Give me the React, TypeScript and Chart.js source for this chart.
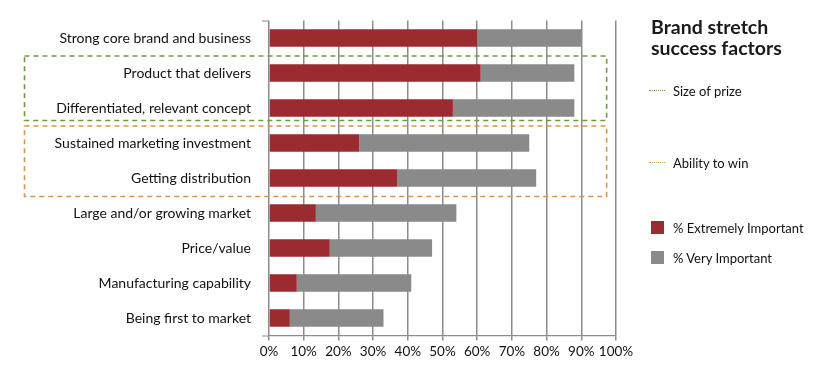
import React, { useEffect, useRef } from "react";
import { Chart, registerables } from "chart.js";

Chart.register(...registerables);

const categories = [
  "Strong core brand and business",
  "Product that delivers",
  "Differentiated, relevant concept",
  "Sustained marketing investment",
  "Getting distribution",
  "Large and/or growing market",
  "Price/value",
  "Manufacturing capability",
  "Being first to market",
];
const extremelyImportant = [60, 61, 53, 26, 37, 13.5, 17.5, 8, 6];
const veryImportant = [30, 27, 35, 49, 40, 40.5, 29.5, 33, 27];
const xTicks = [0, 10, 20, 30, 40, 50, 60, 70, 80, 90, 100];

const groups = [
  { label: "Size of prize", from: 1, to: 2, color: "#6f9a3c" },
  { label: "Ability to win", from: 3, to: 4, color: "#d9954c" },
];

const FONT = "Lato, 'Noto Sans', sans-serif";
const RED = "#9b2b2f";
const GREY = "#8a8a8a";

const boxPlugin = {
  id: "boxes",
  afterDatasetsDraw(chart: any) {
    const { ctx, scales, chartArea } = chart;
    const x = scales.x;
    const y = scales.y;
    const boundary = (i: number) => (y.getPixelForValue(i) + y.getPixelForValue(i + 1)) / 2;
    ctx.save();
    ctx.strokeStyle = "#8a8a8a";
    ctx.lineWidth = 1.2;
    ctx.beginPath();
    ctx.moveTo(chartArea.left - 7, chartArea.bottom + 0.5);
    ctx.lineTo(chartArea.left, chartArea.bottom + 0.5);
    ctx.moveTo(chartArea.left - 7, chartArea.top + 0.5);
    ctx.lineTo(chartArea.left, chartArea.top + 0.5);
    ctx.stroke();
    ctx.lineWidth = 1.6;
    ctx.setLineDash([5, 4]);
    groups.forEach((g, gi) => {
      const top = boundary(g.from - 1) + 0.5;
      const bottom = boundary(g.to) + (gi === 0 ? -5 : 1);
      const left = 24.5;
      const right = x.getPixelForValue(97.3);
      ctx.strokeStyle = g.color;
      ctx.strokeRect(left, top, right - left, bottom - top);
    });
    ctx.restore();
  },
};

export default function App() {
  const ref = useRef<HTMLCanvasElement>(null);
  useEffect(() => {
    if (!ref.current) return;
    const chart = new Chart(ref.current, {
      type: "bar",
      data: {
        labels: categories,
        datasets: [
          {
            label: "% Extremely Important",
            data: extremelyImportant,
            backgroundColor: RED,
            borderWidth: 0,
            barPercentage: 0.5,
            categoryPercentage: 1,
          },
          {
            label: "% Very Important",
            data: veryImportant,
            backgroundColor: GREY,
            borderWidth: 0,
            barPercentage: 0.5,
            categoryPercentage: 1,
          },
        ],
      },
      options: {
        indexAxis: "y",
        animation: false,
        responsive: false,
        layout: { padding: { top: 20.5, right: 199, bottom: 0, left: 0 } },
        plugins: { legend: { display: false }, tooltip: { enabled: false } },
        scales: {
          x: {
            stacked: true,
            min: 0,
            max: 100,
            afterBuildTicks: (s: any) => {
              s.ticks = xTicks.map((v) => ({ value: v }));
            },
            afterFit: (s: any) => {
              s.height = 38.5;
              s.paddingLeft = 0;
              s.paddingRight = 0;
            },
            ticks: {
              callback: (v: any) => v + "%",
              color: "#111",
              font: { family: FONT, size: 13.5 },
              padding: 3,
              maxRotation: 0,
              autoSkip: false,
            },
            grid: { color: "#8c8c8c", lineWidth: 1.5, tickLength: 5 },
            border: { display: true, color: "#8c8c8c", width: 1.2 },
          },
          y: {
            stacked: true,
            afterFit: (s: any) => {
              s.width = 269;
              s.paddingTop = 0;
              s.paddingBottom = 0;
            },
            ticks: {
              color: "#111",
              font: { family: FONT, size: 14 },
              padding: 18,
              autoSkip: false,
            },
            grid: { display: false, drawTicks: false },
            border: { display: false },
          },
        },
      },
      plugins: [boxPlugin],
    } as any);
    return () => chart.destroy();
  }, []);

  const textStyle: React.CSSProperties = {
    position: "absolute",
    left: 673,
    fontFamily: FONT,
    fontSize: 13,
    color: "#111",
    lineHeight: "16px",
    whiteSpace: "nowrap",
  };

  return (
    <div style={{ position: "fixed", left: 0, top: 0, width: 815, height: 374, background: "#fff" }}>
      <canvas ref={ref} width={815} height={374} style={{ display: "block" }} />
      <div
        style={{
          position: "absolute",
          left: 651,
          top: 16,
          fontFamily: FONT,
          fontWeight: 700,
          fontSize: 19.5,
          lineHeight: "21px",
          color: "#1a1a1a",
        }}
      >
        Brand stretch
        <br />
        success factors
      </div>
      {groups.map((g, i) => (
        <React.Fragment key={g.label}>
          <div
            style={{
              position: "absolute",
              left: 649,
              top: i === 0 ? 90 : 162,
              width: 16,
              borderTop: `1.3px dotted ${g.color}`,
            }}
          />
          <div style={{ ...textStyle, top: i === 0 ? 83 : 155 }}>{g.label}</div>
        </React.Fragment>
      ))}
      {[
        { label: "% Extremely Important", color: RED, y: 227.5 },
        { label: "% Very Important", color: GREY, y: 257.5 },
      ].map((l) => (
        <React.Fragment key={l.label}>
          <div
            style={{
              position: "absolute",
              left: 651,
              top: l.y - 6.5,
              width: 13,
              height: 13,
              background: l.color,
            }}
          />
          <div style={{ ...textStyle, top: l.y - 8 }}>{l.label}</div>
        </React.Fragment>
      ))}
    </div>
  );
}
